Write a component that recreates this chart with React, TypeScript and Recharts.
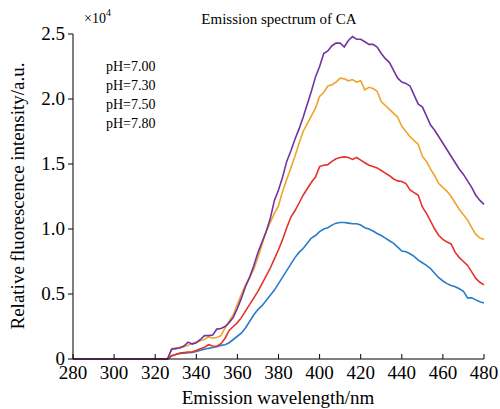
import React from "react";
import { LineChart, Line, XAxis, YAxis } from "recharts";

const wavelengths: number[] = [];
for (let w = 280; w <= 480; w += 2) wavelengths.push(w);

const zeros = new Array(23).fill(0); // 280..324

const blueTail = [0, 0.025, 0.035, 0.042, 0.045, 0.048, 0.05, 0.058, 0.068, 0.075, 0.082, 0.088, 0.095, 0.105, 0.11, 0.125, 0.15, 0.175, 0.2, 0.24, 0.29, 0.34, 0.38, 0.41, 0.45, 0.49, 0.53, 0.58, 0.63, 0.68, 0.73, 0.78, 0.82, 0.85, 0.89, 0.93, 0.95, 0.98, 1.0, 1.01, 1.03, 1.045, 1.05, 1.05, 1.045, 1.04, 1.04, 1.03, 1.01, 1.0, 0.985, 0.965, 0.95, 0.93, 0.91, 0.89, 0.86, 0.83, 0.825, 0.81, 0.79, 0.76, 0.74, 0.72, 0.695, 0.66, 0.625, 0.6, 0.58, 0.565, 0.555, 0.54, 0.52, 0.47, 0.47, 0.455, 0.44, 0.43];
const redTail = [0, 0.025, 0.035, 0.045, 0.05, 0.053, 0.056, 0.065, 0.078, 0.09, 0.11, 0.1, 0.098, 0.118, 0.16, 0.22, 0.25, 0.28, 0.32, 0.37, 0.42, 0.47, 0.52, 0.58, 0.64, 0.7, 0.77, 0.84, 0.92, 1.01, 1.09, 1.14, 1.2, 1.26, 1.31, 1.36, 1.4, 1.48, 1.49, 1.495, 1.52, 1.54, 1.55, 1.555, 1.55, 1.535, 1.55, 1.53, 1.51, 1.49, 1.48, 1.47, 1.45, 1.43, 1.41, 1.385, 1.37, 1.365, 1.35, 1.3, 1.28, 1.26, 1.17, 1.12, 1.06, 1.0, 0.95, 0.92, 0.9, 0.885, 0.82, 0.78, 0.75, 0.72, 0.67, 0.62, 0.59, 0.57];
const orangeTail = [0, 0.08, 0.085, 0.09, 0.095, 0.105, 0.12, 0.13, 0.14, 0.15, 0.17, 0.16, 0.165, 0.18, 0.24, 0.29, 0.34, 0.42, 0.5, 0.57, 0.63, 0.69, 0.78, 0.88, 0.98, 1.05, 1.12, 1.18, 1.29, 1.38, 1.47, 1.56, 1.66, 1.75, 1.81, 1.87, 1.93, 2.02, 2.05, 2.1, 2.11, 2.13, 2.16, 2.155, 2.14, 2.15, 2.13, 2.14, 2.07, 2.09, 2.08, 2.06, 1.98, 1.95, 1.92, 1.89, 1.86, 1.79, 1.75, 1.71, 1.68, 1.65, 1.56, 1.52, 1.46, 1.41, 1.35, 1.32, 1.29, 1.25, 1.2, 1.15, 1.11, 1.07, 1.01, 0.96, 0.93, 0.92];
const purpleTail = [0, 0.075, 0.08, 0.085, 0.1, 0.13, 0.115, 0.125, 0.15, 0.18, 0.18, 0.185, 0.23, 0.235, 0.25, 0.28, 0.32, 0.39, 0.47, 0.56, 0.63, 0.72, 0.82, 0.9, 0.98, 1.08, 1.22, 1.3, 1.4, 1.52, 1.6, 1.69, 1.77, 1.86, 1.96, 2.06, 2.17, 2.25, 2.35, 2.37, 2.41, 2.43, 2.43, 2.4, 2.45, 2.48, 2.46, 2.46, 2.44, 2.42, 2.42, 2.4, 2.35, 2.31, 2.28, 2.22, 2.16, 2.13, 2.12, 2.1, 2.03, 1.96, 1.94, 1.87, 1.8, 1.76, 1.71, 1.66, 1.61, 1.56, 1.51, 1.46, 1.42, 1.37, 1.32, 1.26, 1.22, 1.19];

const pH700 = [...zeros, ...blueTail];
const pH730 = [...zeros, ...redTail];
const pH750 = [...zeros, ...orangeTail];
const pH780 = [...zeros, ...purpleTail];

const legendLabels = ["pH=7.00", "pH=7.30", "pH=7.50", "pH=7.80"];
const xTicks = [280, 300, 320, 340, 360, 380, 400, 420, 440, 460, 480];
const yTicks = [0, 0.5, 1.0, 1.5, 2.0, 2.5];

const data = wavelengths.map((w, i) => ({
  x: w,
  a: pH700[i],
  b: pH730[i],
  c: pH750[i],
  d: pH780[i],
}));

const FONT = '"Liberation Serif", "Times New Roman", serif';
const fontStyle = { fontFamily: FONT };

const XTick = (props: any) => {
  const { x, y, payload } = props;
  return (
    <g>
      <line x1={x} y1={y} x2={x} y2={y - 5} stroke="#000" strokeWidth={1} />
      <text x={x} y={y + 20} textAnchor="middle" fontSize={19} style={fontStyle} fill="#000">
        {payload.value}
      </text>
    </g>
  );
};

const YTick = (props: any) => {
  const { x, y, payload } = props;
  const v = payload.value as number;
  return (
    <text x={x} y={y + 6} textAnchor="end" fontSize={19} style={fontStyle} fill="#000">
      {v === 0 ? "0" : v.toFixed(1)}
    </text>
  );
};

export default function App() {
  return (
    <div style={{ position: "absolute", left: 0, top: 0, width: 500, height: 409, background: "#fff", fontFamily: FONT }}>
      <LineChart
        width={500}
        height={409}
        data={data}
        margin={{ top: 34, right: 16, bottom: 20, left: 28 }}
        style={fontStyle}
      >
        <XAxis
          dataKey="x"
          type="number"
          domain={[280, 480]}
          ticks={xTicks}
          interval={0}
          tickSize={0}
          tickMargin={0}
          tickLine={false}
          height={30}
          axisLine={{ stroke: "#000", strokeWidth: 1 }}
          tick={<XTick />}
        />
        <YAxis
          type="number"
          domain={[0, 2.5]}
          ticks={yTicks}
          interval={0}
          width={45}
          tickSize={5}
          tickMargin={3}
          axisLine={{ stroke: "#000", strokeWidth: 1 }}
          tickLine={{ stroke: "#000", strokeWidth: 1 }}
          tick={<YTick />}
        />
        <Line dataKey="a" stroke="#2a7bc8" strokeWidth={1.6} dot={false} isAnimationActive={false} />
        <Line dataKey="b" stroke="#e5332b" strokeWidth={1.6} dot={false} isAnimationActive={false} />
        <Line dataKey="c" stroke="#f0a42c" strokeWidth={1.6} dot={false} isAnimationActive={false} />
        <Line dataKey="d" stroke="#7234a0" strokeWidth={1.6} dot={false} isAnimationActive={false} />
      </LineChart>
      <svg width={500} height={409} style={{ position: "absolute", left: 0, top: 0, pointerEvents: "none", fontFamily: FONT }}>
        <text x={279} y={24} textAnchor="middle" fontSize={15} fill="#000">
          Emission spectrum of CA
        </text>
        <text x={84} y={23} fontSize={14} fill="#000">
          ×10
        </text>
        <text x={106} y={16} fontSize={10} fill="#000">
          4
        </text>
        {legendLabels.map((l, i) => (
          <text key={l} x={106} y={71 + i * 19} fontSize={14} fill="#000">
            {l}
          </text>
        ))}
        <text
          x={0}
          y={0}
          transform="translate(24,196) rotate(-90)"
          textAnchor="middle"
          fontSize={19}
          fill="#000"
        >
          Relative fluorescence intensity/a.u.
        </text>
        <text x={278} y={404} textAnchor="middle" fontSize={19} fill="#000">
          Emission wavelength/nm
        </text>
      </svg>
    </div>
  );
}
